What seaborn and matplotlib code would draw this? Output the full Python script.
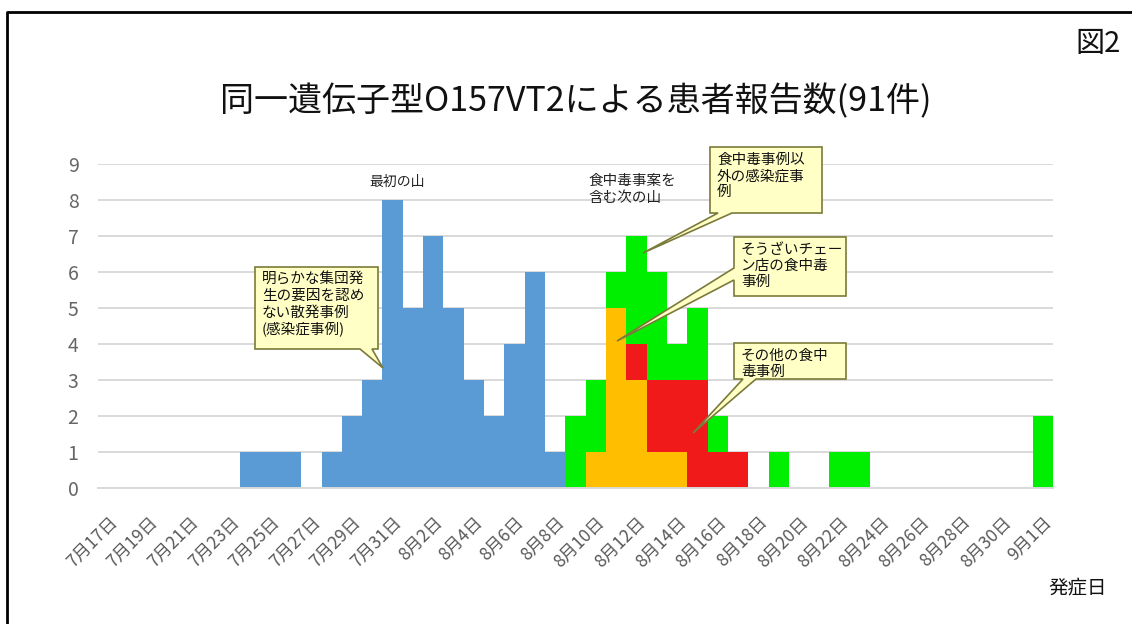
import matplotlib
matplotlib.use("Agg")
import matplotlib.pyplot as plt
from matplotlib.patches import Polygon
from matplotlib.lines import Line2D
import seaborn as sns
import numpy as np
import pandas as pd

# daily counts, 7/17 .. 9/1 (47 days)
sporadic = [0, 0, 0, 0, 0, 0, 0, 1, 1, 1, 0, 1, 2, 3, 8, 5, 7, 5, 3, 2, 4, 6, 1,
            0, 0, 0, 0, 0, 0, 0, 0, 0, 0, 0, 0, 0, 0, 0, 0, 0, 0, 0, 0, 0, 0, 0, 0]
souzai = [0, 0, 0, 0, 0, 0, 0, 0, 0, 0, 0, 0, 0, 0, 0, 0, 0, 0, 0, 0, 0, 0, 0,
          0, 1, 5, 3, 1, 1, 0, 0, 0, 0, 0, 0, 0, 0, 0, 0, 0, 0, 0, 0, 0, 0, 0, 0]
other_food = [0, 0, 0, 0, 0, 0, 0, 0, 0, 0, 0, 0, 0, 0, 0, 0, 0, 0, 0, 0, 0, 0, 0,
              0, 0, 0, 1, 2, 2, 3, 1, 1, 0, 0, 0, 0, 0, 0, 0, 0, 0, 0, 0, 0, 0, 0, 0]
infection = [0, 0, 0, 0, 0, 0, 0, 0, 0, 0, 0, 0, 0, 0, 0, 0, 0, 0, 0, 0, 0, 0, 0,
             2, 2, 1, 3, 3, 1, 2, 1, 0, 0, 1, 0, 0, 1, 1, 0, 0, 0, 0, 0, 0, 0, 0, 2]

dates = pd.date_range("2017-07-17", "2017-09-01")
day_labels = [f"{d.month}月{d.day}日" for d in dates]

series = {"sporadic": sporadic, "souzai": souzai,
          "other_food": other_food, "infection": infection}
rows = []
for name, vals in series.items():
    for i, v in enumerate(vals):
        rows.append({"day": i, "type": name, "n": v})
df = pd.DataFrame(rows)

colors = {"sporadic": "#5b9bd5", "souzai": "#ffbf00",
          "other_food": "#f01a1a", "infection": "#00ee00"}

sns.set_style("white")
plt.rcParams["font.family"] = ["Noto Sans CJK JP", "DejaVu Sans"]

W, H = 1132, 624
fig = plt.figure(figsize=(W / 100, H / 100), dpi=100)
ax = fig.add_axes([98 / W, 1 - 488 / H, 955 / W, 324 / H])

# seaborn stacks the last hue level at the bottom
sns.histplot(data=df, x="day", weights="n", hue="type",
             hue_order=["infection", "other_food", "souzai", "sporadic"],
             palette=colors, multiple="stack", discrete=True, shrink=1,
             alpha=1, linewidth=0, legend=False, ax=ax, zorder=2)

ax.set_xlim(-0.5, len(dates) - 0.5)
ax.set_ylim(0, 9)
ax.set_yticks(range(10))
ax.yaxis.grid(True, color="#d9d9d9", lw=1.4, zorder=0)
ax.set_axisbelow(True)
for s in ["left", "right", "top"]:
    ax.spines[s].set_visible(False)
ax.spines["bottom"].set_color("#d9d9d9")
ax.spines["bottom"].set_linewidth(1.4)
ax.set_xlabel("")
ax.set_ylabel("")

ax.set_xticks(range(0, len(dates), 2))
ax.set_xticklabels(day_labels[::2], rotation=45, ha="right", va="top",
                   rotation_mode="anchor", fontsize=12.5, color="#595959")
ax.tick_params(axis="x", length=0, pad=18)
ax.tick_params(axis="y", length=0, pad=14, labelsize=14, labelcolor="#666666")


def fx(x, y):
    return (x / W, 1 - y / H)


# titles and labels
fig.text(*fx(576, 102), "同一遺伝子型O157VT2による患者報告数(91件)",
         ha="center", va="center", fontsize=24.5, color="#111111")
fig.text(*fx(1121, 44), "図2", ha="right", va="center", fontsize=21, color="#111111")
fig.text(*fx(1078, 588), "発症日", ha="center", va="center", fontsize=14, color="#111111")
fig.text(*fx(397, 182), "最初の山", ha="center", va="center", fontsize=10, color="#222222")
fig.text(*fx(588, 174), "食中毒事案を\n含む次の山", ha="left", va="top",
         fontsize=10.5, color="#222222", linespacing=1.3)


def callout(box, base, tip, text, side="bottom"):
    x0, y0, x1, y1 = box
    b1, b2 = base
    if side == "bottom":
        pts = [(x0, y0), (x1, y0), (x1, y1), (b2, y1), tip, (b1, y1), (x0, y1)]
    else:  # left
        pts = [(x0, y0), (x1, y0), (x1, y1), (x0, y1), (x0, b2), tip, (x0, b1)]
    poly = Polygon([fx(*p) for p in pts], closed=True, transform=fig.transFigure,
                   facecolor="#ffffc6", edgecolor="#7a7a3a", lw=1.2, zorder=5)
    fig.patches.append(poly)
    fig.text(*fx(x0 + 7, y0 + 6), text, ha="left", va="top", fontsize=10.5,
             color="#111111", linespacing=1.2, zorder=6)


callout((255, 267, 378, 349), (360, 372), (383, 368),
        "明らかな集団発\n生の要因を認め\nない散発事例\n(感染症事例)")
callout((710, 147, 822, 213), (718, 732), (643, 253),
        "食中毒事例以\n外の感染症事\n例")
callout((734, 237, 846, 296), (268, 280), (617, 341),
        "そうざいチェー\nン店の食中毒\n事例", side="left")
callout((734, 343, 846, 379), (743, 756), (693, 433),
        "その他の食中\n毒事例")

# outer frame (top and left edges visible)
fig.lines.append(Line2D([7 / W, 7 / W, 1], [0, 1 - 12 / H, 1 - 12 / H],
                        transform=fig.transFigure, color="black", lw=2))

fig.savefig("out.png", dpi=100)
